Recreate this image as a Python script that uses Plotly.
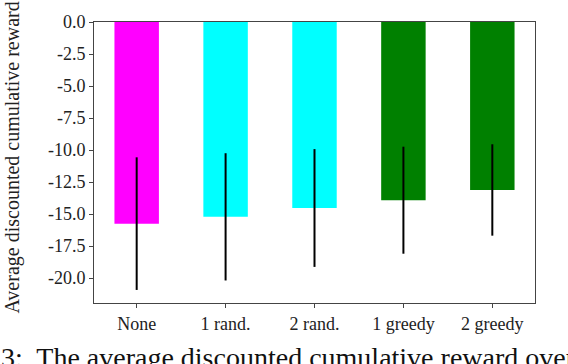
import plotly.graph_objects as go

categories = ["None", "1 rand.", "2 rand.", "1 greedy", "2 greedy"]
means = [-15.75, -15.22, -14.53, -13.92, -13.12]
errors = [5.18, 4.97, 4.6, 4.18, 3.57]
colors = ["#ff00ff", "#00ffff", "#00ffff", "#008000", "#008000"]
tick_vals = [0, -2.5, -5, -7.5, -10, -12.5, -15, -17.5, -20]
tick_text = ["0.0", "-2.5", "-5.0", "-7.5", "-10.0", "-12.5", "-15.0", "-17.5", "-20.0"]

W, H = 568, 364
L, R, T, B = 94, 33, 17, 61
FONT = "Liberation Serif"

fig = go.Figure()
fig.add_trace(
    go.Bar(
        x=list(range(len(categories))),
        y=means,
        width=0.5,
        marker=dict(color=colors, line=dict(width=0)),
        error_y=dict(type="data", array=errors, visible=True, width=0, thickness=2, color="black"),
        showlegend=False,
    )
)

axis_common = dict(
    showline=True,
    linecolor="#444",
    linewidth=1,
    mirror=True,
    ticks="outside",
    ticklen=4,
    tickcolor="#444",
    showgrid=False,
    zeroline=False,
    tickfont=dict(family=FONT, size=18, color="#222"),
)

fig.update_xaxes(
    range=[-0.48, 4.48],
    tickvals=list(range(len(categories))),
    ticktext=categories,
    **axis_common,
)
fig.update_yaxes(range=[-21.95, 0], tickvals=tick_vals, ticktext=tick_text, **axis_common)

# y-axis title
fig.add_annotation(
    text="Average discounted cumulative reward",
    xref="paper", yref="paper",
    x=(13 - L) / (W - L - R), y=(H - B - 155) / (H - T - B),
    textangle=-90, showarrow=False,
    xanchor="center", yanchor="middle",
    font=dict(family=FONT, size=20, color="#222"),
)

# caption fragment below the chart
fig.add_annotation(
    text="3:  The average discounted cumulative reward over",
    xref="paper", yref="paper",
    x=(-1 - L) / (W - L - R), y=-(341 - (H - B)) / (H - T - B),
    xanchor="left", yanchor="top", showarrow=False,
    font=dict(family=FONT, size=28, color="#111"),
)

fig.update_layout(
    width=W,
    height=H,
    margin=dict(l=L, r=R, t=T, b=B),
    plot_bgcolor="white",
    paper_bgcolor="white",
    bargap=0.5,
)

fig.write_html(
    "out.html",
    config={"displayModeBar": False},
    post_script="document.body.style.margin='0';",
)
